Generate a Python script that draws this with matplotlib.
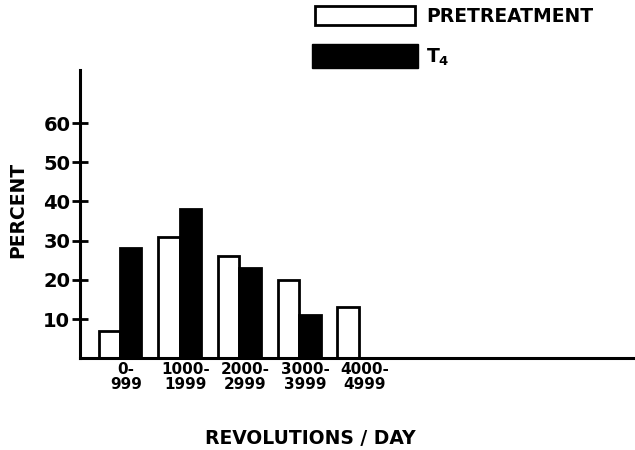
import matplotlib
matplotlib.use("Agg")
import matplotlib.pyplot as plt
from matplotlib.patches import Rectangle
import numpy as np

categories = ["0-\n999", "1000-\n1999", "2000-\n2999", "3000-\n3999", "4000-\n4999"]
pretreatment = [7, 31, 26, 20, 13]
t4 = [28, 38, 23, 11, 0]
yticks = [10, 20, 30, 40, 50, 60]


def main():
	fig = plt.figure(figsize=(6.35, 4.5), dpi=100)
	ax = fig.add_axes([0.126, 0.204, 0.874, 0.64])

	x = np.arange(len(categories))
	w = 0.36
	ax.bar(x - w / 2, pretreatment, w, color="white", edgecolor="black", linewidth=2)
	# no T4 bar drawn for the last group
	t4_x = [xi for xi, v in zip(x, t4) if v > 0]
	t4_v = [v for v in t4 if v > 0]
	ax.bar(np.array(t4_x) + w / 2, t4_v, w, color="black", edgecolor="black", linewidth=2)

	ax.set_xlim(-0.67, 8.63)
	ax.set_ylim(0, 73.5)
	ax.spines["top"].set_visible(False)
	ax.spines["right"].set_visible(False)
	ax.spines["left"].set_linewidth(2.2)
	ax.spines["bottom"].set_linewidth(2.2)

	ax.set_yticks(yticks)
	ax.set_yticklabels([str(v) for v in yticks], fontsize=14, fontweight="bold")
	ax.tick_params(axis="y", direction="inout", length=12, width=2, pad=1)
	ax.set_xticks(x + 0.1)
	ax.set_xticklabels(categories, fontsize=11, fontweight="bold", linespacing=0.95)
	ax.tick_params(axis="x", length=0, pad=3)

	fig.text(18 / 635, 1 - 210 / 450, "PERCENT", rotation=90, ha="center", va="center",
		fontsize=13.5, fontweight="bold")
	fig.text(310 / 635, 1 - 439 / 450, "REVOLUTIONS / DAY", ha="center", va="center",
		fontsize=13.5, fontweight="bold")

	# legend drawn by hand
	fig.add_artist(Rectangle((315 / 635, 1 - 25 / 450), 100 / 635, 19 / 450,
		transform=fig.transFigure, facecolor="white", edgecolor="black", linewidth=2))
	fig.add_artist(Rectangle((312 / 635, 1 - 68 / 450), 106 / 635, 24 / 450,
		transform=fig.transFigure, facecolor="black", edgecolor="black", linewidth=1))
	fig.text(426 / 635, 1 - 16 / 450, "PRETREATMENT", ha="left", va="center",
		fontsize=13.5, fontweight="bold")
	fig.text(426 / 635, 1 - 57 / 450, r"T$_\mathbf{4}$", ha="left", va="center",
		fontsize=13.5, fontweight="bold")

	fig.savefig("out.png", dpi=100)


if __name__ == '__main__':
	main()
